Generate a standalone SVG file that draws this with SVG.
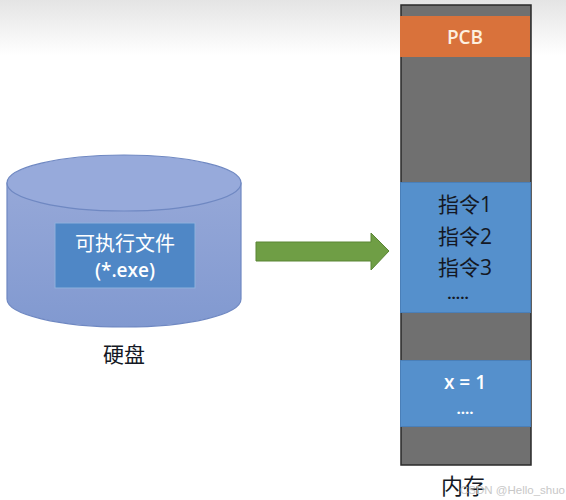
<svg xmlns="http://www.w3.org/2000/svg" width="566" height="500" viewBox="0 0 566 500">
<defs>
<linearGradient id="bg" x1="0" y1="0" x2="0" y2="1">
<stop offset="0" stop-color="#e4e4e4"/>
<stop offset="1" stop-color="#ffffff"/>
</linearGradient>
<linearGradient id="cyl" x1="0" y1="0" x2="0" y2="1">
<stop offset="0" stop-color="#96a8d8"/>
<stop offset="1" stop-color="#8199d0"/>
</linearGradient>
<style>
.cjk{font-family:"Open Sans","Noto Sans CJK SC",sans-serif}
.w{fill:#ffffff}
.k{fill:#141824}
.blk{fill:#5590cc;stroke:#4a7fb8;stroke-width:1}
</style>
</defs>
<rect x="0" y="0" width="566" height="500" fill="#ffffff"/>
<rect x="0" y="0" width="566" height="55" fill="url(#bg)"/>
<g id="disk">
<path d="M7,183 L7,299 A117,28 0 0 0 241,299 L241,183 Z" fill="url(#cyl)" stroke="#6f88c2" stroke-width="1.2"/>
<ellipse cx="124" cy="183" rx="117" ry="28" fill="#97aadb" stroke="#6f88c2" stroke-width="1.2"/>
<rect x="55" y="223" width="140" height="65" fill="#4f87c6" stroke="#8fb0dc" stroke-width="1"/>
<text x="125" y="251" text-anchor="middle" font-size="20" class="cjk w">可执行文件</text>
<text x="125" y="277" text-anchor="middle" font-size="19" font-weight="600" class="cjk w">(*.exe)</text>
<text x="124" y="362" text-anchor="middle" font-size="21" class="cjk k">硬盘</text>
</g>
<g id="connectors">
<path d="M256,242 L371,242 L371,233 L389,251 L371,270 L371,261 L256,261 Z" fill="#6f9e45" stroke="#5a8535" stroke-width="1"/>
</g>
<g id="memory">
<rect x="401" y="5" width="130" height="460" fill="#707070" stroke="#2a2a2a" stroke-width="1.5"/>
<g id="pcb">
<rect x="400" y="16" width="130" height="41" fill="#d9723b"/>
<text x="465" y="44" text-anchor="middle" font-size="19" font-weight="600" class="cjk" fill="#fdf0e0">PCB</text>
</g>
<g id="code">
<rect x="400.5" y="182.5" width="130" height="130" class="blk"/>
<text x="465" y="212" text-anchor="middle" font-size="21" class="cjk k">指令1</text>
<text x="465" y="244" text-anchor="middle" font-size="21" class="cjk k">指令2</text>
<text x="465" y="275" text-anchor="middle" font-size="21" class="cjk k">指令3</text>
<text x="458" y="299" text-anchor="middle" font-size="15" font-weight="bold" class="cjk k">.....</text>
</g>
<g id="data">
<rect x="400.5" y="360.5" width="130" height="66" class="blk"/>
<text x="465" y="389" text-anchor="middle" font-size="19" font-weight="600" class="cjk w">x = 1</text>
<text x="465" y="414" text-anchor="middle" font-size="15" font-weight="bold" class="cjk w">....</text>
</g>
<text x="463" y="494" text-anchor="middle" font-size="22" class="cjk k">内存</text>
</g>
<text x="565" y="494" text-anchor="end" font-size="11.5" font-family="'Liberation Sans',sans-serif" fill="#c8c8c8">CSDN @Hello_shuo</text>
</svg>
